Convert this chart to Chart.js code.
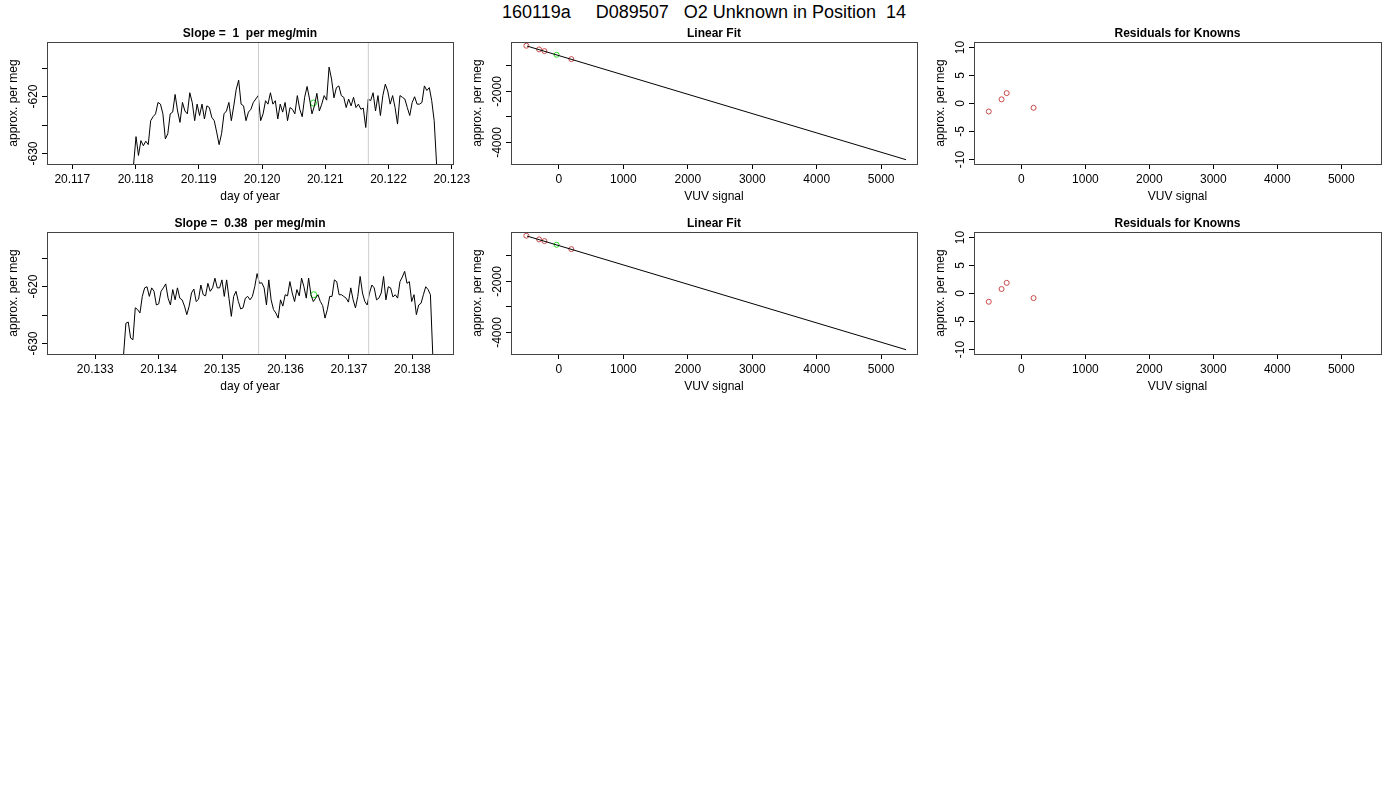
<!DOCTYPE html>
<html><head><meta charset="utf-8">
<script src="https://cdn.jsdelivr.net/npm/chart.js@4"></script>
<style>
body{margin:0;background:#fff;width:1400px;height:800px;position:relative;overflow:hidden;font-family:"Liberation Sans",Arial,sans-serif}
canvas{position:absolute}
#mt{position:absolute;left:0;top:1px;width:1408px;text-align:center;font-size:18px;white-space:pre;line-height:22px}
</style></head><body>
<div id="mt">160119a     D089507   O2 Unknown in Position  14</div>
<script>
// ---- data ----
const ts1Start = 20.117969, ts1End = 20.122761;
const ts1Values = [-632,-627.1,-630.4,-627.8,-628.7,-627.9,-628.5,-624.3,-623.6,-623.1,-621.1,-621.4,-623.1,-627.5,-626.6,-623.1,-622.8,-619.7,-622.6,-624.6,-621.1,-622.6,-623.1,-619.4,-621.1,-624.3,-621.4,-623.4,-621.4,-624.0,-621.7,-622.0,-623.7,-624.3,-626.3,-628.5,-626.6,-623.1,-622.6,-621.1,-624.3,-621.7,-618.8,-617.2,-621.4,-621.7,-624.3,-622.8,-622.3,-621.1,-620.5,-619.9,-624.3,-623.1,-620.8,-621.4,-619.4,-621.4,-620.8,-624.0,-621.4,-622.8,-621.1,-624.3,-622.0,-622.3,-623.1,-619.9,-622.3,-623.6,-620.2,-618.3,-620.5,-623.1,-621.7,-619.5,-622.6,-621.4,-619.9,-620.7,-614.9,-617.0,-620.3,-618.5,-618.2,-619.9,-620.2,-622.0,-620.5,-621.7,-620.2,-622.0,-621.4,-622.3,-622.1,-625.5,-620.5,-620.8,-619.4,-622.6,-619.9,-623.4,-619.9,-617.9,-619.1,-621.4,-619.9,-622.0,-624.9,-619.9,-620.2,-620.5,-622.0,-623.4,-621.1,-620.1,-621.4,-621.4,-621.1,-618.2,-619.0,-618.5,-620.8,-624.3,-632];
const ts2Start = 20.133447, ts2End = 20.138321;
const ts2Values = [-632,-626.5,-626.3,-629.1,-629.4,-623.8,-624.1,-624.7,-621.8,-620.3,-620.1,-621.8,-620.3,-620.9,-623.3,-623.1,-620.9,-620.3,-619.6,-622.1,-623.3,-620.6,-622.4,-620.3,-622.1,-622.4,-623.5,-625.0,-623.5,-621.2,-620.5,-622.7,-622.3,-619.8,-621.5,-621.7,-619.5,-620.9,-620.3,-618.6,-620.3,-620.3,-618.9,-621.8,-618.9,-622.1,-625.3,-621.8,-620.9,-622.7,-624.0,-623.8,-622.1,-621.8,-622.4,-621.8,-620.1,-617.8,-619.5,-619.4,-620.3,-623.3,-618.9,-622.4,-624.1,-624.7,-625.6,-622.4,-623.5,-621.5,-621.7,-619.2,-621.2,-622.7,-620.6,-621.7,-618.6,-620.1,-622.1,-618.6,-621.5,-622.7,-622.1,-621.5,-622.7,-623.4,-625.6,-624.1,-621.8,-621.8,-618.9,-619.2,-621.5,-621.5,-621.8,-622.1,-622.8,-620.3,-622.4,-623.8,-621.8,-618.3,-621.2,-622.7,-623.3,-621.2,-619.8,-620.3,-622.4,-622.1,-621.2,-618.3,-622.4,-620.1,-620.3,-621.9,-621.5,-622.1,-619.2,-618.4,-617.4,-619.5,-619.2,-622.7,-621.5,-625.0,-623.3,-623.0,-621.5,-620.1,-620.6,-621.5,-632];
const ts1Gray = [20.119944, 20.121681];
const ts2Gray = [20.135576, 20.137311];
const ts1Green = [20.120813, -621.2];
const ts2Green = [20.136444, -621.5];
const ts1XTicks = [20.117,20.118,20.119,20.120,20.121,20.122,20.123];
const ts2XTicks = [20.133,20.134,20.135,20.136,20.137,20.138];
const tsYTicks = [-615,-620,-625,-630];
const tsYLabels = [-620,-630];
const slopes = ["1","0.38"];

const knownX = [-505,-307,-224,193];
const knownY1 = [-237,-382,-447,-763];
const knownY2 = [-237,-382,-447,-763];
const unkX = [-36], unkY = [-592];
const fitX = [-495,5386], fitY = [-250,-4700];
const fitXTicks = [0,1000,2000,3000,4000,5000];
const fitYTicks = [-1000,-2000,-3000,-4000];
const fitYLabels = [-2000,-4000];

const residX = [-510,-310,-230,190];
const resid1 = [-1.5,0.65,1.75,-0.85];
const resid2 = [-1.55,0.7,1.8,-0.9];
const resYTicks = [10,5,0,-5,-10];

// ---- drawing ----
const FONT = '"Liberation Sans", Arial, sans-serif';
const RED = '#c84848', GREEN = '#22dd22';
const RP = 30;
function seq(start,end,vals){const n=vals.length;return vals.map((v,i)=>({x:start+(end-start)*i/(n-1),y:v}));}
function pts(xs,ys){return xs.map((x,i)=>({x,y:ys[i]}));}

function panel(box, title, datasets, xr, yr, xTicks, xFmt, yTicks, yLabels, xTitle, yTitle){
  const c=document.createElement('canvas');
  const W=box.r-box.l+50+RP, H=box.b-box.t+65;
  c.width=W;c.height=H;c.style.left=(box.l-50)+'px';c.style.top=(box.t-20)+'px';
  c.style.width=W+'px';c.style.height=H+'px';
  document.body.appendChild(c);
  const deco={id:'deco',afterDraw(ch){
    const g=ch.ctx,a=ch.chartArea,y=ch.scales.y;
    g.save();
    g.strokeStyle='#444';g.lineWidth=1;
    g.strokeRect(Math.round(a.left)+0.5,Math.round(a.top)+0.5,Math.round(a.right-a.left),Math.round(a.bottom-a.top));
    g.fillStyle='#000';g.font='12px '+FONT;
    g.strokeStyle='#000';
    yTicks.forEach(v=>{
      const py=Math.round(y.getPixelForValue(v))+0.5;
      g.beginPath();g.moveTo(a.left-5,py);g.lineTo(a.left,py);g.stroke();
      if(yLabels.includes(v)){
        g.save();g.translate(a.left-7,py);g.rotate(-Math.PI/2);
        g.textAlign='center';g.textBaseline='bottom';g.fillText(String(v),0,0);g.restore();
      }
    });
    g.textAlign='center';g.textBaseline='middle';
    g.fillText(xTitle,(a.left+a.right)/2,a.bottom+33);
    g.save();g.translate(a.left-33,(a.top+a.bottom)/2);g.rotate(-Math.PI/2);g.fillText(yTitle,0,0);g.restore();
    g.font='bold 12px '+FONT;
    g.fillText(title,(a.left+a.right)/2,a.top-8);
    g.restore();
  }};
  new Chart(c,{type:'scatter',data:{datasets},plugins:[deco],
    options:{responsive:false,animation:false,devicePixelRatio:1,
      layout:{padding:{top:20,right:RP,left:0,bottom:0}},
      plugins:{legend:{display:false},tooltip:{enabled:false}},
      scales:{
        x:{type:'linear',min:xr[0],max:xr[1],afterFit(s){s.height=45;},
          afterBuildTicks(s){s.ticks=xTicks.map(v=>({value:v}));},
          border:{display:false},
          grid:{drawOnChartArea:false,drawTicks:true,tickLength:5,color:'#000'},
          ticks:{color:'#000',font:{size:12,family:FONT},padding:3,maxRotation:0,autoSkip:false,callback:v=>xFmt(v)}},
        y:{type:'linear',min:yr[0],max:yr[1],afterFit(s){s.width=50;},
          border:{display:false},grid:{display:false},ticks:{display:false}}
      }}});
}
function tsSets(vals,start,end,gray,green,yr){
  return [
    {type:'line',data:[{x:gray[0],y:yr[0]},{x:gray[0],y:yr[1]}],borderColor:'#cccccc',borderWidth:1,pointRadius:0},
    {type:'line',data:[{x:gray[1],y:yr[0]},{x:gray[1],y:yr[1]}],borderColor:'#cccccc',borderWidth:1,pointRadius:0},
    {type:'line',data:seq(start,end,vals),borderColor:'#000',borderWidth:1,pointRadius:0,tension:0},
    {data:[{x:green[0],y:green[1]}],pointRadius:3,borderColor:GREEN,backgroundColor:'rgba(0,0,0,0)',borderWidth:1}
  ];
}
function fitSets(ky){
  return [
    {type:'line',data:pts(fitX,fitY),borderColor:'#000',borderWidth:1,pointRadius:0},
    {data:pts(knownX,ky),pointRadius:2.5,borderColor:RED,backgroundColor:'rgba(0,0,0,0)',borderWidth:1},
    {data:pts(unkX,unkY),pointRadius:2.5,borderColor:GREEN,backgroundColor:'rgba(0,0,0,0)',borderWidth:1}
  ];
}
function resSets(r){return [{data:pts(residX,r),pointRadius:2.5,borderColor:RED,backgroundColor:'rgba(0,0,0,0)',borderWidth:1}];}

const tsY=[-631.9,-610.5];
const rows=[{t:42,b:164},{t:232,b:354}];
const tsX=[[20.1166,20.12302],[20.13224,20.13864]];
const fmt3=v=>v.toFixed(3), fmt0=v=>String(v);
[[ts1Values,ts1Start,ts1End,ts1Gray,ts1Green,ts1XTicks,knownY1,resid1],
 [ts2Values,ts2Start,ts2End,ts2Gray,ts2Green,ts2XTicks,knownY2,resid2]].forEach((d,i)=>{
  const r=rows[i];
  panel({l:47,r:453,t:r.t,b:r.b},'Slope =  '+slopes[i]+'  per meg/min',tsSets(d[0],d[1],d[2],d[3],d[4],tsY),tsX[i],tsY,d[5],fmt3,tsYTicks,tsYLabels,'day of year','approx. per meg');
  panel({l:511,r:917,t:r.t,b:r.b},'Linear Fit',fitSets(d[6]),[-743,5556],[-4868,-92],fitXTicks,fmt0,fitYTicks,fitYLabels,'VUV signal','approx. per meg');
  panel({l:974,r:1381,t:r.t,b:r.b},'Residuals for Knowns',resSets(d[7]),[-741,5621],[-10.8,10.8],fitXTicks,fmt0,resYTicks,resYTicks,'VUV signal','approx. per meg');
});
</script></body></html>
